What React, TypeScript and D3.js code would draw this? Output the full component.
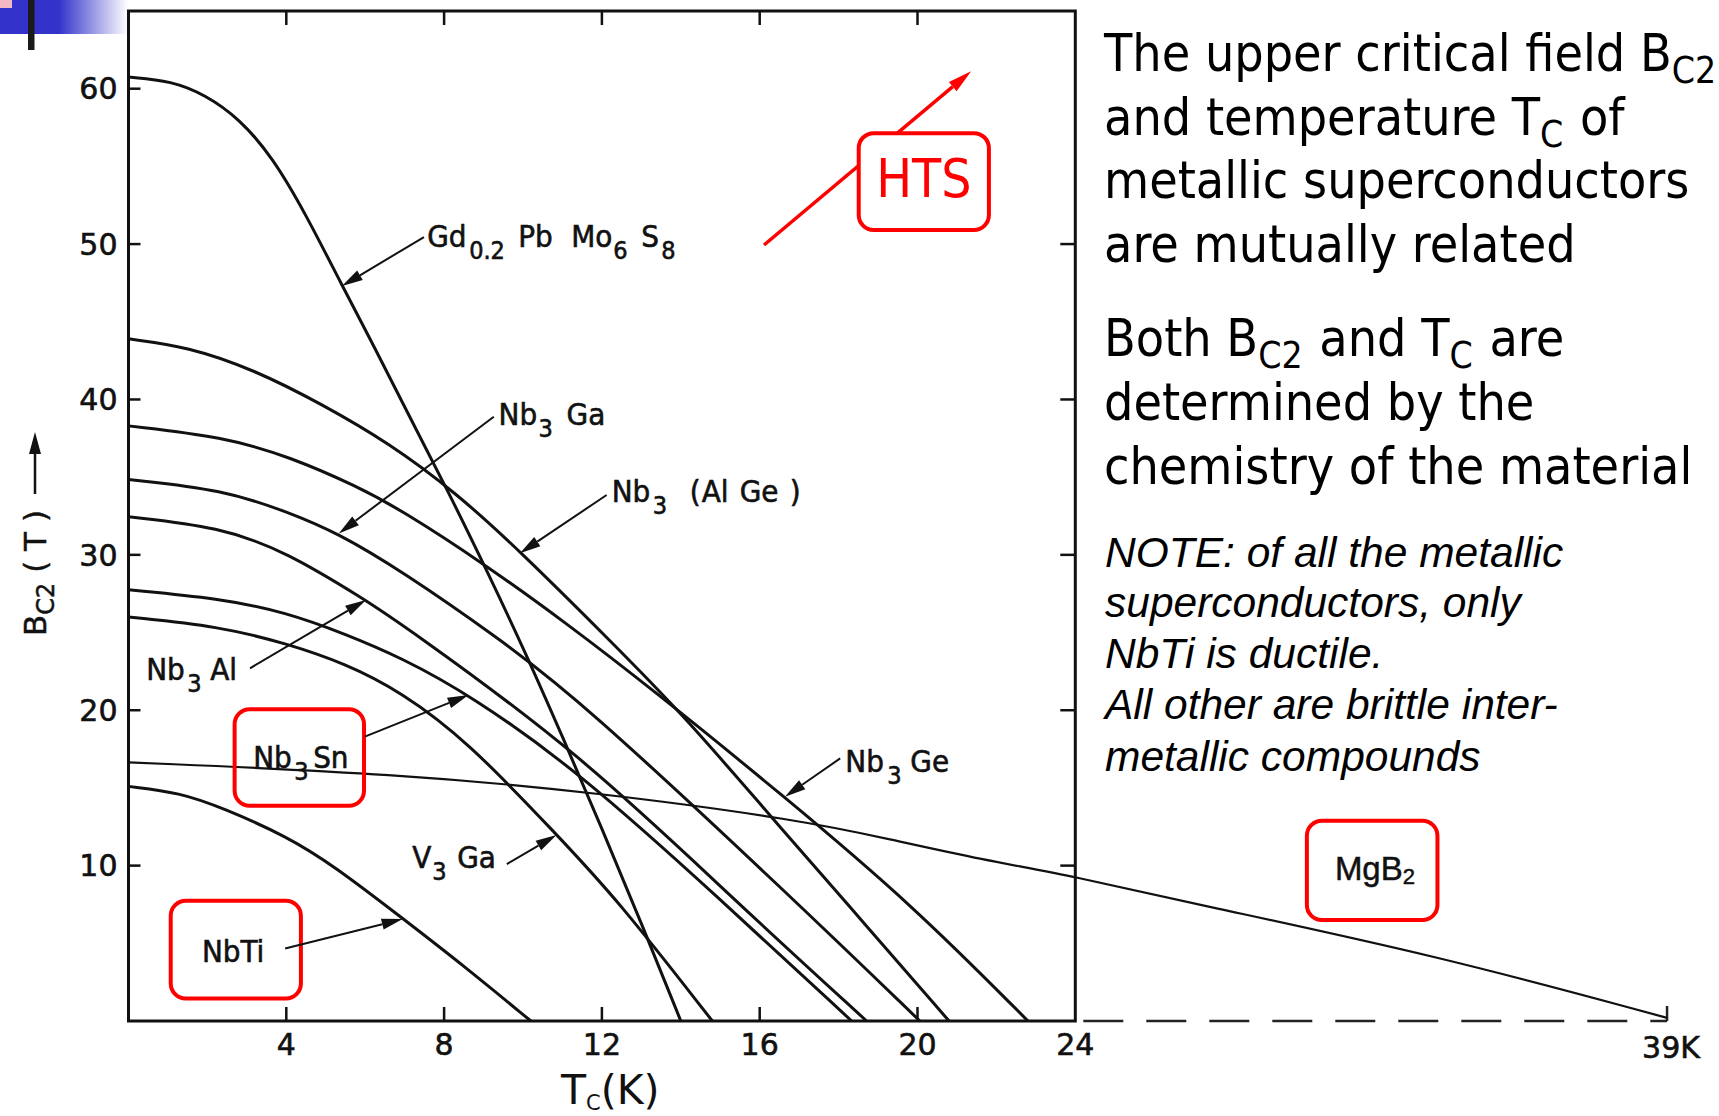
import React from "react";
import * as d3 from "d3";

// Bc2(T) curves: [Tc in K, Bc2 in T]
const gdPbMo6S8 = [[0, 60.75], [1.1, 60.5], [1.95, 59.6], [2.8, 58.1], [3.65, 55.6], [4.5, 51.9], [5.4, 47.4], [6.25, 43.3], [7.1, 39.0], [8.1, 34.1], [9.1, 28.9], [10.1, 23.5], [11.0, 18.3], [12.0, 12.4], [13.0, 6.3], [14.0, 0]];
const nb3AlGe = [[0, 43.9], [1.5, 43.4], [3.2, 41.9], [4.9, 39.7], [6.6, 37.2], [8.3, 34.0], [9.9, 30.3], [12.2, 24.5], [14.1, 19.6], [16.2, 13.4], [18.2, 7.6], [20.8, 0]];
const nb3Ge = [[0, 38.3], [2.4, 37.6], [4.1, 36.3], [5.8, 34.4], [6.9, 32.9], [9.0, 29.45], [11.1, 25.6], [13.2, 21.5], [16.6, 14.5], [19.9, 7.4], [22.8, 0]];
const nb3Ga = [[0, 34.85], [2.4, 34.2], [4.1, 32.7], [5.3, 31.4], [6.9, 29.0], [9.4, 24.6], [11.44, 20.67], [16.86, 7.84], [20.06, 0]];
const nb3Al = [[0, 32.45], [2.3, 31.8], [4.0, 30.2], [6.0, 27.1], [6.9, 25.6], [11.44, 17.25], [15.33, 7.84], [18.71, 0]];
const nb3Sn = [[0, 27.75], [2.3, 27.2], [4.0, 26.3], [5.5, 24.9], [6.9, 23.4], [8.65, 21.0], [11.44, 16.0], [15.0, 7.84], [18.33, 0]];
const v3Ga = [[0, 26.0], [2.3, 25.4], [4.0, 24.3], [5.5, 23.0], [6.9, 21.2], [8.6, 18.0], [10.85, 12.0], [12.4, 7.8], [14.8, 0]];
const nbTi = [[0, 15.1], [1.3, 14.7], [2.4, 13.7], [4.0, 11.9], [5.2, 10.0], [6.95, 6.6], [8.5, 3.55], [10.2, 0]];
const mgB2 = [[0, 16.65], [6.9, 15.9], [11.9, 14.7], [17.0, 12.95], [19.3, 11.7], [21.6, 10.4], [24, 9.3], [26.9, 7.6], [33.2, 4.2], [39, 0.2]];

const xTicks = [4, 8, 12, 16, 20];
const xTickLabels = ["4", "8", "12", "16", "20", "24"];
const yTicks = [10, 20, 30, 40, 50, 60];
const rightTicks = [10, 20, 30, 40, 50];

const W = 1719;
const H = 1116;

const x = d3.scaleLinear().domain([0, 24]).range([128.5, 1075.3]);
const y = d3.scaleLinear().domain([0, 65]).range([1021, 11]);

const DIN = "'DejaVu Sans', sans-serif";
const COND = "'DejaVu Sans Condensed', 'DejaVu Sans', sans-serif";
const NOTE = "'Liberation Sans', Arial, sans-serif";
const RED = "#ff0000";
const INK = "#111";

// annotation layout, in data units
const leaders = [
  { from: [7.49, 50.45], to: [5.41, 47.3] },
  { from: [9.26, 38.89], to: [5.33, 31.38] },
  { from: [12.12, 33.85], to: [9.92, 30.1] },
  { from: [18.04, 16.9], to: [16.64, 14.43] },
  { from: [3.08, 22.7], to: [6.02, 27.1] },
  { from: [5.99, 18.3], to: [8.62, 20.98] },
  { from: [9.59, 10.1], to: [10.85, 11.97] },
  { from: [3.97, 4.67], to: [6.95, 6.56] },
];

const labels = [
  { at: [7.57, 49.83], parts: [["Gd", 0], ["0.2", 42, 1], ["Pb", 91], ["Mo", 144], ["6", 186, 1], ["S", 214], ["8", 234, 1]] },
  { at: [9.38, 38.35], parts: [["Nb", 0], ["3", 40, 1], ["Ga", 68]] },
  { at: [12.25, 33.42], parts: [["Nb", 0], ["3", 41, 1], ["(", 78], ["Al", 90], ["Ge", 128], [")", 178]] },
  { at: [18.17, 16.04], parts: [["Nb", 0], ["3", 42, 1], ["Ge", 65]] },
  { at: [0.45, 21.94], parts: [["Nb", 0], ["3", 41, 1], ["Al", 64]] },
  { at: [3.16, 16.28], parts: [["Nb", 0], ["3", 41, 1], ["Sn", 60]] },
  { at: [7.19, 9.83], parts: [["V", 0], ["3", 20, 1], ["Ga", 45]] },
  { at: [1.86, 3.82], parts: [["NbTi", 0]] },
];

const boxes = [
  [18.51, 57.14, 21.81, 50.9],
  [2.69, 20.06, 5.97, 13.85],
  [1.07, 7.74, 4.37, 1.45],
  [29.87, 12.89, 33.18, 6.5],
];

const Arrow = ({ x1, y1, x2, y2, len = 20, half = 5.5, color = INK, sw = 2 }) => {
  const a = Math.atan2(y2 - y1, x2 - x1);
  const bx = x2 - len * Math.cos(a);
  const by = y2 - len * Math.sin(a);
  const p1 = [bx + half * Math.sin(a), by - half * Math.cos(a)];
  const p2 = [bx - half * Math.sin(a), by + half * Math.cos(a)];
  return (
    <g>
      <line x1={x1} y1={y1} x2={bx} y2={by} stroke={color} strokeWidth={sw} />
      <polygon points={`${x2},${y2} ${p1[0]},${p1[1]} ${p2[0]},${p2[1]}`} fill={color} />
    </g>
  );
};

export default function App() {
  const line = d3
    .line<number[]>()
    .x((d) => x(d[0]))
    .y((d) => y(d[1]))
    .curve(d3.curveBasis);

  const curves = [gdPbMo6S8, nb3AlGe, nb3Ge, nb3Ga, nb3Al, nb3Sn, v3Ga, nbTi];

  return (
    <svg width={W} height={H} style={{ position: "absolute", left: 0, top: 0, background: "#fff" }}>
      <defs>
        <linearGradient id="band" x1="0" x2="1" y1="0" y2="0">
          <stop offset="0" stopColor="#3333cc" />
          <stop offset="0.46" stopColor="#3333cc" />
          <stop offset="1" stopColor="#ffffff" />
        </linearGradient>
      </defs>
      <rect x={0} y={0} width={W} height={H} fill="#fff" />

      {/* slide decoration */}
      <rect x={0} y={0} width={128} height={34} fill="url(#band)" />
      <rect x={0} y={0} width={12} height={8} fill="#f4b8c4" />
      <rect x={28} y={0} width={6.5} height={50} fill="#1a1a1a" />

      {/* frame and ticks */}
      <rect x={x(0)} y={y(65)} width={x(24) - x(0)} height={y(0) - y(65)} fill="none" stroke={INK} strokeWidth={3} />
      {xTicks.map((t) => (
        <g key={"xt" + t}>
          <line x1={x(t)} x2={x(t)} y1={y(0)} y2={y(0) - 14} stroke={INK} strokeWidth={2.5} />
          <line x1={x(t)} x2={x(t)} y1={y(65)} y2={y(65) + 14} stroke={INK} strokeWidth={2.5} />
        </g>
      ))}
      {yTicks.map((b) => (
        <line key={"yl" + b} x1={x(0)} x2={x(0) + 12} y1={y(b)} y2={y(b)} stroke={INK} strokeWidth={2.5} />
      ))}
      {rightTicks.map((b) => (
        <line key={"yr" + b} x1={x(24)} x2={x(24) - 15} y1={y(b)} y2={y(b)} stroke={INK} strokeWidth={2.5} />
      ))}
      <line x1={x(24)} x2={x(39)} y1={y(0)} y2={y(0)} stroke="#222" strokeWidth={2.5} strokeDasharray="40 23" strokeDashoffset={-8} />
      <line x1={x(39)} x2={x(39)} y1={y(0)} y2={y(0) - 15} stroke="#222" strokeWidth={2.5} />

      {/* tick labels */}
      <g fontFamily={DIN} fontSize={30} fill={INK} stroke={INK} strokeWidth={0.6}>
        {yTicks.map((b) => (
          <text key={"yl" + b} x={x(0) - 11} y={y(b)} dy="0.36em" textAnchor="end">
            {b}
          </text>
        ))}
        {xTickLabels.map((s) => (
          <text key={"xl" + s} x={x(+s)} y={y(0) + 34} textAnchor="middle">
            {s}
          </text>
        ))}
        <text x={x(39) + 4} y={y(0) + 37} textAnchor="middle">39K</text>
      </g>

      {/* curves */}
      {curves.map((c, i) => (
        <path key={"c" + i} d={line(c) || ""} fill="none" stroke={INK} strokeWidth={3} />
      ))}
      <path d={line(mgB2) || ""} fill="none" stroke={INK} strokeWidth={2.2} />

      {/* HTS arrow runs behind its box */}
      <Arrow x1={x(16.11)} y1={y(49.94)} x2={x(21.36)} y2={y(61.13)} color={RED} sw={3.5} len={24} half={6} />

      {/* red boxes */}
      {boxes.map((b, i) => (
        <rect
          key={"b" + i}
          x={x(b[0])}
          y={y(b[1])}
          width={x(b[2]) - x(b[0])}
          height={y(b[3]) - y(b[1])}
          rx={15}
          fill={i === 0 ? "#fff" : "none"}
          stroke={RED}
          strokeWidth={4}
        />
      ))}
      <text x={x(20.16)} y={y(53.04)} textAnchor="middle" fontFamily={COND} fontStretch="condensed" fontSize={53} fill={RED}>
        HTS
      </text>

      {/* leaders */}
      {leaders.map((l, i) => (
        <Arrow key={"l" + i} x1={x(l.from[0])} y1={y(l.from[1])} x2={x(l.to[0])} y2={y(l.to[1])} sw={2} len={21} />
      ))}

      {/* curve labels */}
      <g fontFamily={COND} fontStretch="condensed" fill={INK} stroke={INK} strokeWidth={0.6}>
        {labels.map((lb, i) => (
          <text key={"t" + i} x={x(lb.at[0])} y={y(lb.at[1])} fontSize={31}>
            {lb.parts.map((p, j) => (
              <tspan key={j} x={x(lb.at[0]) + (p[1] as number)} y={y(lb.at[1]) + (p[2] ? 12 : 0)} fontSize={p[2] ? 25 : 31}>
                {p[0]}
              </tspan>
            ))}
          </text>
        ))}
      </g>
      <text x={x(30.58)} y={y(9.07)} fontFamily={NOTE} fontSize={33} fill={INK} stroke={INK} strokeWidth={0.5}>
        MgB<tspan fontSize={22} dy={4}>2</tspan>
      </text>

      {/* axis titles */}
      <g fontFamily={DIN} fill={INK}>
        <text transform="translate(46,636) rotate(-90)" fontSize={31} stroke={INK} strokeWidth={0.5}>
          B<tspan fontSize={24} dy={8}>C2</tspan>
          <tspan dy={-8}> ( T )</tspan>
        </text>
        <Arrow x1={35} y1={494} x2={35} y2={432} sw={2.5} len={22} half={6} />
      </g>
      <text x={561} y={1104} fontFamily={DIN} fontSize={41} fill={INK}>
        T<tspan fontSize={21} dy={6}>C</tspan>
        <tspan dy={-6}>(K)</tspan>
      </text>

      {/* slide text */}
      <g fontFamily={COND} fontStretch="condensed" fontSize={51.5} fill="#000">
        <text x={1104} y={71}>
          The upper critical field B<tspan fontSize={37} dy={12}>C2</tspan>
        </text>
        <text x={1104} y={135}>
          and temperature T<tspan fontSize={37} dy={12}>C</tspan>
          <tspan dy={-12} dx={2}>{"\u00a0of"}</tspan>
        </text>
        <text x={1104} y={198}>metallic superconductors</text>
        <text x={1104} y={262}>are mutually related</text>
        <text x={1104} y={356}>
          Both B<tspan fontSize={37} dy={12}>C2</tspan>
          <tspan dy={-12} dx={2}>{"\u00a0and T"}</tspan>
          <tspan fontSize={37} dy={12}>C</tspan>
          <tspan dy={-12} dx={2}>{"\u00a0are"}</tspan>
        </text>
        <text x={1104} y={420}>determined by the</text>
        <text x={1104} y={484}>chemistry of the material</text>
      </g>
      <g fontFamily={NOTE} fontStyle="italic" fontSize={42.5} fill="#000">
        <text x={1105} y={567}>NOTE: of all the metallic</text>
        <text x={1105} y={617}>superconductors, only</text>
        <text x={1105} y={668}>NbTi is ductile.</text>
        <text x={1105} y={719}>All other are brittle inter-</text>
        <text x={1105} y={771}>metallic compounds</text>
      </g>
    </svg>
  );
}
